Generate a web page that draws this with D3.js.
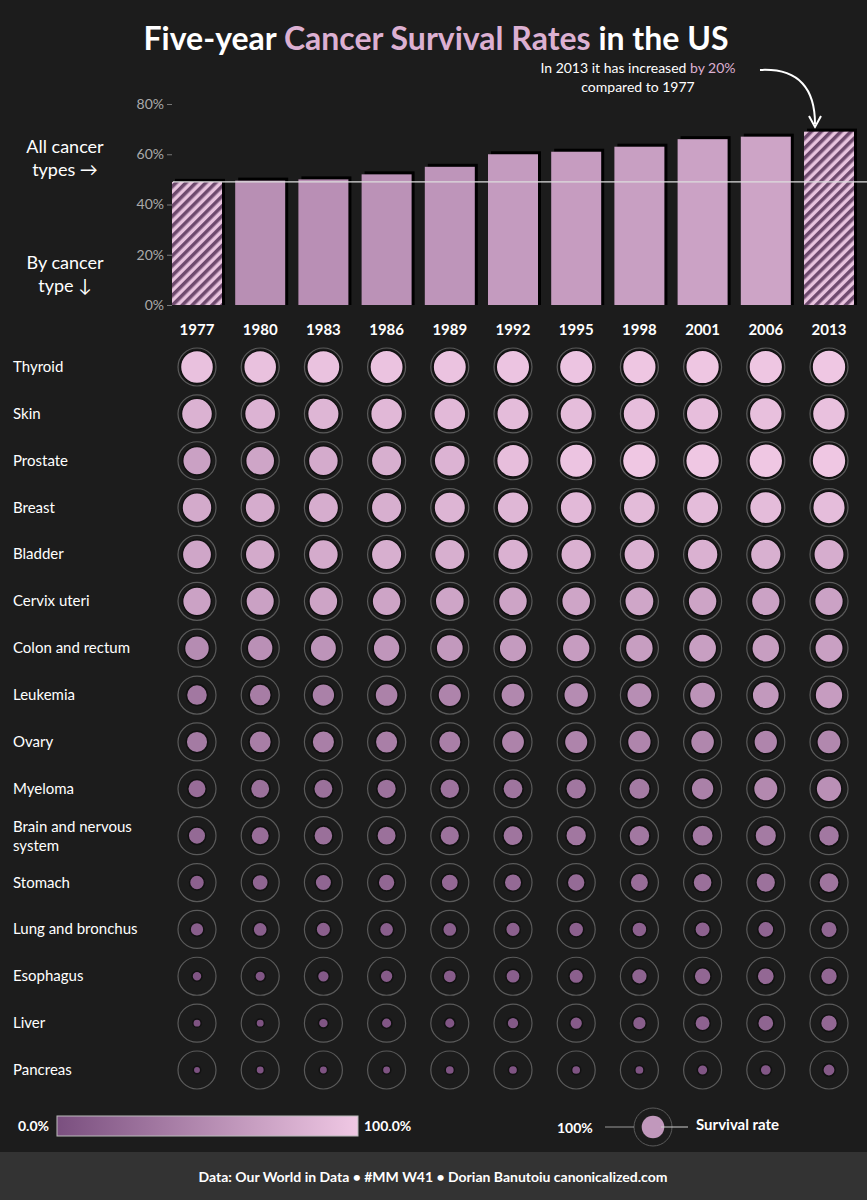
<!DOCTYPE html>
<html>
<head>
<meta charset="utf-8">
<title>Five-year Cancer Survival Rates</title>
<script src="https://d3js.org/d3.v7.min.js"></script>
<style>
  body { margin:0; background:#1c1c1c; font-family: Lato, "Open Sans", sans-serif; }
  text { fill:#fff; }
</style>
</head>
<body>
<svg id="chart" width="867" height="1200"></svg>
<script>
// DATA
var years = ["1977","1980","1983","1986","1989","1992","1995","1998","2001","2006","2013"];
var allTypes = [49, 49.5, 50, 52, 55, 60, 61, 63, 66, 67, 69];
var cancers = ["Thyroid","Skin","Prostate","Breast","Bladder","Cervix uteri","Colon and rectum","Leukemia","Ovary","Myeloma","Brain and nervous system","Stomach","Lung and bronchus","Esophagus","Liver","Pancreas"];
var rates = [
  [94,94,95,96,96,97,97,98,98,98,99],
  [82,83,85,87,88,90,91,92,92,93,94],
  [68,71,76,79,83,92,97,99,99,99,99],
  [75,77,78,79,84,86,88,89,90,90,91],
  [72,75,76,79,79,81,81,82,81,80,78],
  [69,68,70,70,71,70,71,72,70,69,69],
  [50,54,57,59,61,63,64,65,66,65,67],
  [34,38,41,42,44,47,50,52,56,61,64],
  [36,39,40,40,40,43,44,45,46,45,47],
  [25,28,28,29,30,31,33,36,41,48,54],
  [22,25,27,28,29,31,33,34,35,36,34],
  [15,18,19,20,21,22,23,25,27,29,31],
  [12,13,14,13,13,14,15,15,16,18,19],
  [5,6,8,10,11,13,14,17,20,21,20],
  [3,3,5,6,6,8,10,12,16,18,20],
  [2,3,3,3,4,4,4,4,6,7,9]
];
var yTicks = [0, 20, 40, 60, 80];

var svg = d3.select("#chart");
var color = d3.scaleLinear().domain([0, 100]).range(["#7a4f7f", "#f0c8e4"]);

var x = d3.scalePoint().domain(years).range([197, 829]);
var y = d3.scaleLinear().domain([0, 80]).range([305, 104]);
var rowY = d3.scalePoint().domain(cancers).range([367, 1070]);
var r = d3.scaleSqrt().domain([0, 100]).range([1.5, 17]);
var barW = 50;

var defs = svg.append("defs");
var pat = defs.append("pattern").attr("id", "hatch").attr("patternUnits", "userSpaceOnUse")
  .attr("width", 7).attr("height", 7).attr("patternTransform", "rotate(45)");
pat.append("rect").attr("width", 7).attr("height", 7).attr("fill", "#e8c3de");
pat.append("rect").attr("width", 3.5).attr("height", 7).attr("fill", "#6e4a6e");
var grad = defs.append("linearGradient").attr("id", "grad");
grad.append("stop").attr("offset", "0%").attr("stop-color", color(0));
grad.append("stop").attr("offset", "100%").attr("stop-color", color(100));

// title
var title = svg.append("text").attr("x", 436).attr("y", 50).attr("text-anchor", "middle")
  .style("font-size", "32px").style("font-weight", "bold");
title.append("tspan").text("Five-year ");
title.append("tspan").text("Cancer Survival Rates").style("fill", "#dcb0d2");
title.append("tspan").text(" in the US");

// annotation
var ann = svg.append("text").attr("x", 638).attr("y", 73).attr("text-anchor", "middle").style("font-size", "14px");
ann.append("tspan").text("In 2013 it has increased ");
ann.append("tspan").text("by 20%").style("fill", "#dcb0d2");
svg.append("text").attr("x", 638).attr("y", 92).attr("text-anchor", "middle").style("font-size", "14px").text("compared to 1977");
svg.append("path").attr("d", "M760,70 C800,68 815,90 815,124").attr("fill", "none").attr("stroke", "#fff").attr("stroke-width", 2);
svg.append("path").attr("d", "M809,116 L815,127 L821,116").attr("fill", "none").attr("stroke", "#fff").attr("stroke-width", 2);

// side labels
svg.append("text").attr("x", 65).attr("y", 153).attr("text-anchor", "middle").style("font-size", "18px").text("All cancer");
svg.append("text").attr("x", 65).attr("y", 176).attr("text-anchor", "middle").style("font-size", "18px").text("types \u2192");
svg.append("text").attr("x", 65).attr("y", 269).attr("text-anchor", "middle").style("font-size", "18px").text("By cancer");
svg.append("text").attr("x", 65).attr("y", 292).attr("text-anchor", "middle").style("font-size", "18px").text("type \u2193");

// y axis
var ya = svg.append("g").attr("transform", "translate(172,0)")
  .call(d3.axisLeft(y).tickValues(yTicks).tickFormat(function (d) { return d + "%"; }).tickSize(5));
ya.select(".domain").remove();
ya.selectAll("line").attr("stroke", "#777");
ya.selectAll("text").style("fill", "#aaa").style("font-size", "14px").style("font-family", "Lato, sans-serif");

// bars (shadow + bar)
svg.selectAll(".shadow").data(allTypes).enter().append("rect")
  .attr("x", function (d, i) { return x(years[i]) - barW / 2 + 3; })
  .attr("y", function (d) { return y(d) - 3; })
  .attr("width", barW).attr("height", function (d) { return y(0) - y(d) + 3; })
  .attr("fill", "#000");
svg.selectAll(".bar").data(allTypes).enter().append("rect")
  .attr("x", function (d, i) { return x(years[i]) - barW / 2; })
  .attr("y", function (d) { return y(d); })
  .attr("width", barW).attr("height", function (d) { return y(0) - y(d); })
  .attr("fill", function (d, i) { return (i === 0 || i === allTypes.length - 1) ? "url(#hatch)" : color(d + 3); });

// reference line at 1977 value
svg.append("line").attr("x1", 173).attr("x2", 867).attr("y1", y(allTypes[0])).attr("y2", y(allTypes[0]))
  .attr("stroke", "#ddd").attr("stroke-width", 1.2);

// year labels
svg.selectAll(".yr").data(years).enter().append("text")
  .attr("x", function (d) { return x(d); }).attr("y", 335).attr("text-anchor", "middle")
  .style("font-size", "15px").style("font-weight", "bold").text(function (d) { return d; });

// cancer labels
cancers.forEach(function (c) {
  var t = svg.append("text").attr("x", 13).attr("y", rowY(c) + 5).style("font-size", "15px");
  if (c === "Brain and nervous system") {
    t.attr("y", rowY(c) - 4).text("Brain and nervous");
    svg.append("text").attr("x", 13).attr("y", rowY(c) + 15).style("font-size", "15px").text("system");
  } else t.text(c);
});

// circles
var cells = [];
rates.forEach(function (row, ri) {
  row.forEach(function (v, ci) { cells.push({ c: cancers[ri], yr: years[ci], v: v }); });
});
svg.selectAll(".ring").data(cells).enter().append("circle")
  .attr("cx", function (d) { return x(d.yr); }).attr("cy", function (d) { return rowY(d.c); })
  .attr("r", 19).attr("fill", "none").attr("stroke", "#5a5a5a").attr("stroke-width", 1.2);
svg.selectAll(".dot").data(cells).enter().append("circle")
  .attr("cx", function (d) { return x(d.yr); }).attr("cy", function (d) { return rowY(d.c); })
  .attr("r", function (d) { return r(d.v); })
  .attr("fill", function (d) { return color(d.v); })
  .attr("stroke", "#111").attr("stroke-width", 1.5);

// legend: gradient
svg.append("rect").attr("x", 57).attr("y", 1116).attr("width", 301).attr("height", 20)
  .attr("fill", "url(#grad)").attr("stroke", "#bbb").attr("stroke-width", 1);
svg.append("text").attr("x", 18).attr("y", 1131).style("font-size", "14px").style("font-weight", "bold").text("0.0%");
svg.append("text").attr("x", 364).attr("y", 1131).style("font-size", "14px").style("font-weight", "bold").text("100.0%");

// legend: size
svg.append("circle").attr("cx", 653).attr("cy", 1127).attr("r", 19).attr("fill", "none").attr("stroke", "#5a5a5a");
svg.append("circle").attr("cx", 653).attr("cy", 1127).attr("r", r(40)).attr("fill", color(60));
svg.append("line").attr("x1", 605).attr("x2", 634).attr("y1", 1127).attr("y2", 1127).attr("stroke", "#999");
svg.append("line").attr("x1", 661).attr("x2", 688).attr("y1", 1127).attr("y2", 1127).attr("stroke", "#ccc");
svg.append("text").attr("x", 557).attr("y", 1133).style("font-size", "14px").style("font-weight", "bold").text("100%");
svg.append("text").attr("x", 696).attr("y", 1130).style("font-size", "15px").style("font-weight", "bold").text("Survival rate");

// footer
svg.append("rect").attr("x", 0).attr("y", 1152).attr("width", 867).attr("height", 48).attr("fill", "#333");
var ft = svg.append("text").attr("x", 433).attr("y", 1182).attr("text-anchor", "middle").style("font-size", "14px").style("font-weight", "bold");
ft.append("tspan").text("Data: Our World in Data \u2022 #MM W41 \u2022 Dorian Banutoiu ");
ft.append("tspan").text("canonicalized.com");
</script>
</body>
</html>
